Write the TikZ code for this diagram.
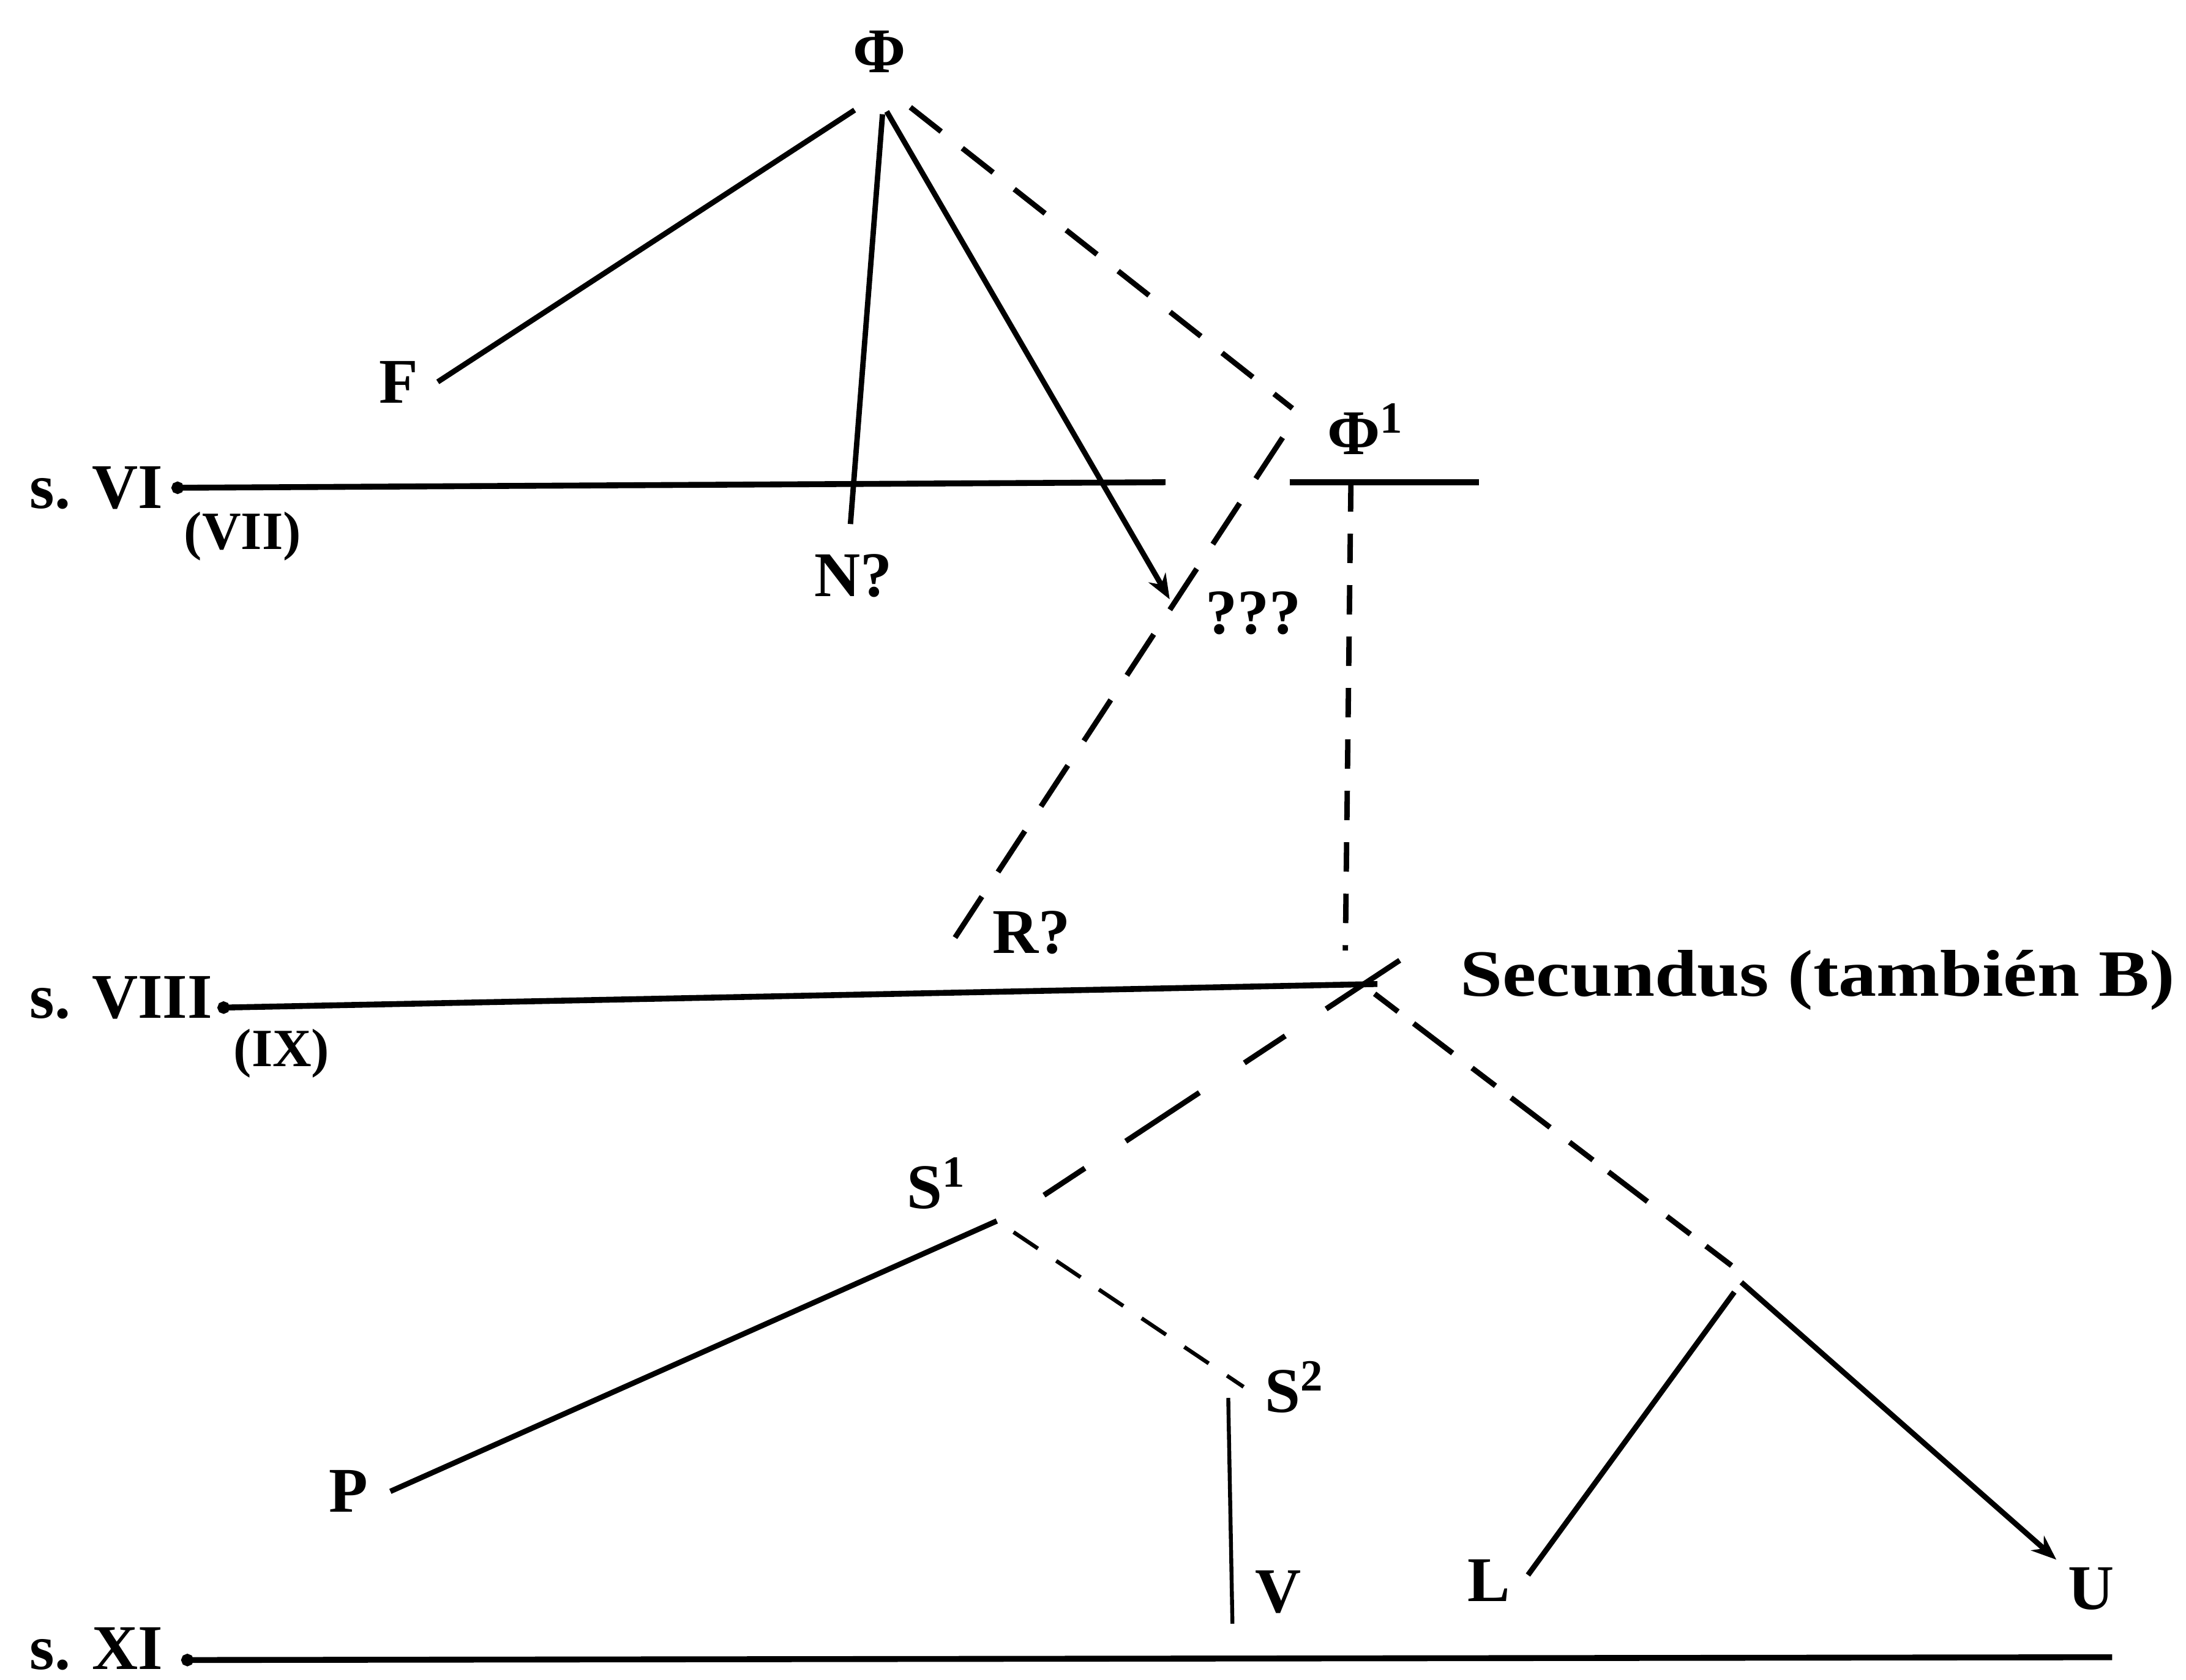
\documentclass[tikz,border=0pt]{standalone}
\usepackage{fontspec}
\setmainfont{Liberation Serif}
\usepackage{tikz}
\usetikzlibrary{arrows.meta}

\begin{document}
\begin{tikzpicture}
\useasboundingbox (0,0) rectangle (15.68,12.05);
\begin{scope}[every node/.style={inner sep=1pt,outer sep=0pt,font=\fontsize{13}{15}\selectfont\bfseries},
              small_label/.style={font=\fontsize{11}{13}\selectfont\bfseries},
              wide_label/.style={font=\fontsize{13.5}{16}\selectfont\bfseries\addfontfeature{FakeStretch=1.15}}]
    \node (phi) at (6.31, 11.68) {Φ};
    \node (F) at (2.86, 9.31) {F};
    \node (N) at (6.12, 7.92) {N?};
    \node (Q) at (8.99, 7.65) {???};
    \node (phi1) at (9.80, 8.97) {Φ\textsuperscript{1}};
    \node (R) at (7.40, 5.36) {R?};
    \node[anchor=west,wide_label] (sec) at (10.44, 5.02) {Secundus (también B)};
    \node (S1) at (6.72, 3.56) {S\textsuperscript{1}};
    \node (S2) at (9.29, 2.10) {S\textsuperscript{2}};
    \node (P) at (2.50, 1.35) {P};
    \node (V) at (9.17, 0.63) {V};
    \node (L) at (10.68, 0.71) {L};
    \node (U) at (15.00, 0.65) {U};
    \node[anchor=west] (s6) at (0.18, 8.55) {s. VI};
    \node[small_label] (s6b) at (1.74, 8.20) {(VII)};
    \node[anchor=west] (s8) at (0.18, 4.89) {s. VIII};
    \node[small_label] (s8b) at (2.02, 4.49) {(IX)};
    \node[anchor=west] (s11) at (0.18, 0.22) {s. XI};
\end{scope}
% ends of the strokes
\coordinate (phi_f) at (6.13, 11.26);
\coordinate (phi_n) at (6.33, 11.23);
\coordinate (phi_q) at (6.36, 11.25);
\coordinate (phi_d) at (6.53, 11.28);
\coordinate (f_end) at (3.14, 9.31);
\coordinate (n_end) at (6.10, 8.29);
\coordinate (q_end) at (8.39, 7.75);
\coordinate (phi1_in) at (9.27, 9.12);
\coordinate (phi1_out) at (9.20, 8.91);
\coordinate (r_end) at (6.75, 5.17);
\coordinate (phi1_foot) at (9.69, 8.59);
\coordinate (sec_top) at (9.65, 5.23);
\coordinate (sec_x) at (9.88, 4.99);
\coordinate (sec_l) at (10.04, 5.16);
\coordinate (sec_r) at (9.86, 4.92);
\coordinate (s1_in) at (7.39, 3.41);
\coordinate (s1_p) at (7.15, 3.29);
\coordinate (s1_s) at (7.27, 3.21);
\coordinate (p_end) at (2.80, 1.35);
\coordinate (s2_in) at (8.92, 2.10);
\coordinate (s2_v) at (8.81, 2.02);
\coordinate (v_end) at (8.84, 0.40);
\coordinate (fork) at (12.42, 2.97);
\coordinate (fork_l) at (12.44, 2.78);
\coordinate (fork_u) at (12.49, 2.85);
\coordinate (l_end) at (10.96, 0.75);
\coordinate (u_end) at (14.75, 0.86);
\coordinate (s6_a) at (1.23, 8.55);
\coordinate (s6_b) at (8.36, 8.59);
\coordinate (s6_c) at (9.25, 8.59);
\coordinate (s6_d) at (10.61, 8.59);
\coordinate (s8_a) at (1.56, 4.82);
\coordinate (s11_a) at (1.30, 0.14);
\coordinate (s11_b) at (15.15, 0.16);
\begin{scope}[>={Stealth[black,length=1.8mm,width=1.4mm]},
              line_edge/.style={draw=black,line width=1.1pt},
              thin_edge/.style={draw=black,line width=0.8pt},
              lost_edge/.style={draw=black,line width=1.1pt,dash pattern=on 8pt off 5.5pt},
              thin_lost/.style={draw=black,line width=0.8pt,dash pattern=on 6pt off 4.5pt},
              age_line/.style={draw=black,line width=1.2pt}]
    \path (phi_f) edge [line_edge] (f_end);
    \path (phi_n) edge [line_edge] (n_end);
    \path [->] (phi_q) edge [line_edge] (q_end);
    \path (phi_d) edge [lost_edge] (phi1_in);
    \path (phi1_out) edge [lost_edge,dash pattern=on 10pt off 6pt] (r_end);
    \path (phi1_foot) edge [lost_edge,dash pattern=on 6pt off 4.5pt] (sec_top);
    \path (sec_l) edge [lost_edge,dash pattern=on 18pt off 10pt on 10pt off 11pt] (s1_in);
    \path (sec_r) edge [lost_edge,dash pattern=on 6pt off 4pt on 10pt off 5pt] (fork);
    \path (s1_p) edge [line_edge] (p_end);
    \path (s1_s) edge [thin_lost] (s2_in);
    \path (s2_v) edge [thin_edge] (v_end);
    \path (fork_l) edge [line_edge] (l_end);
    \path [->] (fork_u) edge [line_edge] (u_end);
    \path [{Circle[length=2.5pt]}-] (s6_a) edge [age_line] (s6_b);
    \path (s6_c) edge [age_line] (s6_d);
    \path [{Circle[length=2.5pt]}-] (s8_a) edge [age_line] (sec_x);
    \path [{Circle[length=2.5pt]}-] (s11_a) edge [age_line] (s11_b);
\end{scope}
\end{tikzpicture}
\end{document}
